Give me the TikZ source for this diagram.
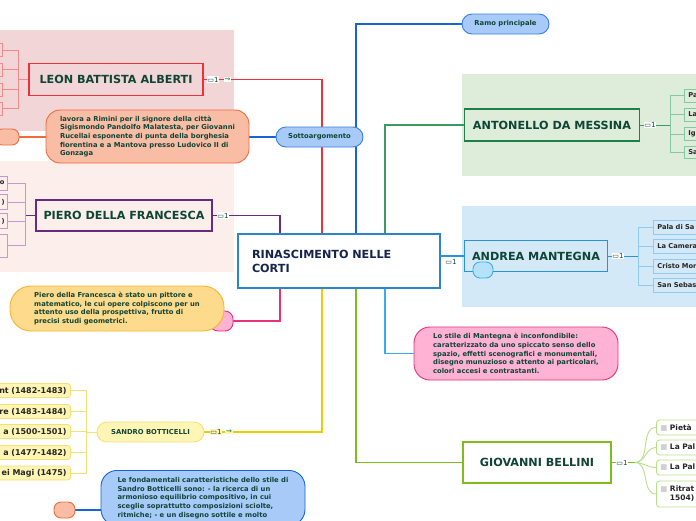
\documentclass[tikz,border=0pt]{standalone}
\usepackage{fontspec}
\setmainfont{DejaVu Sans}
\pgfdeclarelayer{back}
\pgfdeclarelayer{lines}
\pgfsetlayers{back,lines,main}
\definecolor{tgreen}{HTML}{0F4535}
\definecolor{tnavy}{HTML}{14244C}
\definecolor{leonbg}{HTML}{F2D5D7}
\definecolor{pierobg}{HTML}{FCEFEB}
\definecolor{antobg}{HTML}{DDEDDA}
\definecolor{mantbg}{HTML}{D4E9F8}
\definecolor{cred}{HTML}{EE3038}
\definecolor{credlight}{HTML}{F28A8E}
\definecolor{cpurple}{HTML}{6A2A7E}
\definecolor{cpurplelight}{HTML}{C49ACC}
\definecolor{cgreen}{HTML}{1F7F48}
\definecolor{cgreenline}{HTML}{3A9A62}
\definecolor{cgreenlight}{HTML}{86C8A0}
\definecolor{cblue}{HTML}{1565D8}
\definecolor{ccentral}{HTML}{2A86C8}
\definecolor{cmant}{HTML}{2A92DC}
\definecolor{cmantlight}{HTML}{8ECAF2}
\definecolor{ccyan}{HTML}{34AEEE}
\definecolor{cpink}{HTML}{E8307C}
\definecolor{pinkfill}{HTML}{FFB2D4}
\definecolor{cyellow}{HTML}{F2CC00}
\definecolor{cyellowlight}{HTML}{F5E07A}
\definecolor{yellowfill}{HTML}{FFF5B4}
\definecolor{orangefill}{HTML}{FEDA8C}
\definecolor{corange}{HTML}{F5B52E}
\definecolor{salmonfill}{HTML}{F9BDA6}
\definecolor{csalmon}{HTML}{F06A3A}
\definecolor{bluefill}{HTML}{A8CAF8}
\definecolor{cbluedraw}{HTML}{3A7EE0}
\definecolor{clime}{HTML}{7FBC1E}
\definecolor{climelight}{HTML}{BADD8A}
\definecolor{lightbluefill}{HTML}{B4E2FA}
\definecolor{cblobblue}{HTML}{40AEEA}
\definecolor{chkgray}{HTML}{D0D0D0}
\begin{document}
\begin{tikzpicture}[x=1pt,y=-1pt,
  mainbox/.style={draw, line width=1.8pt, inner sep=0pt, font=\bfseries\fontsize{11.2}{14}\selectfont, text=tgreen},
  pill/.style={draw, line width=0.9pt, rounded corners=10pt, inner sep=0pt, font=\bfseries\fontsize{6.8}{8}\selectfont, text=tgreen},
  callout/.style={draw, line width=0.9pt, align=left, inner sep=0pt, font=\bfseries\fontsize{6.8}{8.6}\selectfont, text=tgreen},
  blob/.style={draw, line width=0.9pt, rounded corners=7pt, inner sep=0pt},
  rleaf/.style={draw, line width=0.8pt, inner ysep=0pt, inner xsep=4pt, text width=52pt, align=left, font=\bfseries\fontsize{6.7}{8}\selectfont, text=black!85},
  lleaf/.style={draw, line width=0.8pt, inner ysep=0pt, inner xsep=3pt, text width=40pt, align=right, font=\bfseries\fontsize{6.7}{8}\selectfont, text=black!85, anchor=east},
  sleaf/.style={draw=cyellowlight, fill=yellowfill, rounded corners=3pt, line width=0.8pt, minimum height=14pt, text width=92pt, align=right, inner xsep=4pt, inner ysep=0pt, font=\bfseries\fontsize{8}{9}\selectfont, text=black!85, anchor=east},
  bleaf/.style={draw=climelight, fill=white, rounded corners=3pt, line width=0.8pt, text width=60pt, align=left, inner xsep=4pt, inner ysep=0pt, font=\bfseries\fontsize{7.5}{9}\selectfont, text=black!85, anchor=west},
  icon/.style={fill=white, inner sep=0.6pt, font=\fontsize{7}{7}\selectfont, text=tgreen},
  conn/.style={line width=1.3pt},
  subconn/.style={line width=0.9pt},
]
\useasboundingbox (0,0) rectangle (696,520);
\begin{pgfonlayer}{back}
\fill[leonbg] (0,30) rectangle (234,131);
\fill[pierobg] (0,161) rectangle (234,272);
\fill[antobg] (462,74) rectangle (696,176);
\fill[mantbg] (462,206) rectangle (696,307);
\end{pgfonlayer}

% main nodes
\node[mainbox, draw=ccentral, fill=white, text=tnavy, minimum width=202pt, minimum height=54pt, text width=174pt, align=left, inner xsep=14pt] (central) at (339,261) {RINASCIMENTO NELLE\\CORTI};
\node[mainbox, draw=cred, fill=leonbg, minimum width=174pt, minimum height=32pt] (leon) at (116,79.5) {LEON BATTISTA ALBERTI};
\node[mainbox, draw=cpurple, fill=pierobg, minimum width=176pt, minimum height=31pt] (piero) at (124,215.5) {PIERO DELLA FRANCESCA};
\node[mainbox, draw=cgreen, fill=antobg, minimum width=175pt, minimum height=32pt] (anto) at (552,125) {ANTONELLO DA MESSINA};
\node[mainbox, draw=cmant, fill=mantbg, minimum width=143pt, minimum height=31pt] (mant) at (536,256) {ANDREA MANTEGNA};
\node[mainbox, draw=clime, fill=white, minimum width=148pt, minimum height=41pt] (bell) at (537,462.5) {GIOVANNI BELLINI};

% pills
\node[pill, draw=cbluedraw, fill=bluefill, minimum width=87pt, minimum height=20pt] (sotto) at (319.5,137) {Sottoargomento};
\node[pill, draw=cbluedraw, fill=bluefill, minimum width=87pt, minimum height=20pt] (ramo) at (505.5,24) {Ramo principale};
\node[pill, draw=cyellowlight, fill=yellowfill, minimum width=107pt, minimum height=20pt] (sandro) at (150.5,432) {SANDRO BOTTICELLI};

% callouts
\node[callout, draw=csalmon, fill=salmonfill, rounded corners=14pt, minimum width=203pt, minimum height=53pt] (alb) at (147.5,136.5) {lavora a Rimini per il signore della città\\Sigismondo Pandolfo Malatesta, per Giovanni\\Rucellai esponente di punta della borghesia\\fiorentina e a Mantova presso Ludovico II di\\Gonzaga};
\node[blob, draw=cpink, fill=pinkfill, minimum width=23pt, minimum height=20pt, rounded corners=8pt] (pblob) at (221.5,321) {};
\node[callout, draw=corange, fill=orangefill, rounded corners=21pt, minimum width=214pt, minimum height=45pt] (pcall) at (117,308.5) {Piero della Francesca è stato un pittore e\\matematico, le cui opere colpiscono per un\\attento uso della prospettiva, frutto di\\precisi studi geometrici.};
\node[callout, draw=cpink, fill=pinkfill, rounded corners=16pt, minimum width=204pt, minimum height=53pt] (mcall) at (516,353.5) {Lo stile di Mantegna è inconfondibile:\\caratterizzato da uno spiccato senso dello\\spazio, effetti scenografici e monumentali,\\disegno munuzioso e attento ai particolari,\\colori accesi e contrastanti.};
\node[callout, draw=cblue, fill=bluefill, rounded corners=16pt, minimum width=204pt, inner ysep=7pt, anchor=north] (bcall) at (203,470) {Le fondamentali caratteristiche dello stile di\\Sandro Botticelli sono: - la ricerca di un\\armonioso equilibrio compositivo, in cui\\sceglie soprattutto composizioni sciolte,\\ritmiche; - e un disegno sottile e molto};

% blobs
\node[blob, draw=csalmon, fill=salmonfill, minimum width=24pt, minimum height=16pt] (ablob) at (7,137) {};
\node[blob, draw=csalmon, fill=salmonfill, minimum width=21pt, minimum height=16pt] (bblob) at (64.5,510) {};
\node[blob, draw=cblobblue, fill=lightbluefill, minimum width=20pt, minimum height=16pt] (mblob) at (483,270) {};

% LEON leaves
\node[lleaf, draw=credlight, fill=leonbg, minimum height=13pt] (l1) at (3,50) {};
\node[lleaf, draw=credlight, fill=leonbg, minimum height=13pt] (l2) at (3,69.5) {};
\node[lleaf, draw=credlight, fill=leonbg, minimum height=13pt] (l3) at (3,89.5) {};
\node[lleaf, draw=credlight, fill=leonbg, minimum height=13pt] (l4) at (3,108.5) {};
\coordinate (lj) at (18,79.5);

% PIERO leaves
\node[lleaf, draw=cpurplelight, fill=pierobg, minimum height=14pt] (p1) at (8,183) {o};
\node[lleaf, draw=cpurplelight, fill=pierobg, minimum height=15pt] (p2) at (8,202) {)};
\node[lleaf, draw=cpurplelight, fill=pierobg, minimum height=15pt] (p3) at (8,221) {)};
\node[lleaf, draw=cpurplelight, fill=pierobg, minimum height=23pt] (p4) at (8,245.5) {};
\coordinate (pj) at (25,215.5);

% ANTONELLO leaves
\node[rleaf, draw=cgreenlight, fill=antobg, minimum height=13pt, anchor=west] (a1) at (684,95.5) {Pa};
\node[rleaf, draw=cgreenlight, fill=antobg, minimum height=13pt, anchor=west] (a2) at (684,114.5) {La};
\node[rleaf, draw=cgreenlight, fill=antobg, minimum height=13pt, anchor=west] (a3) at (684,134) {Ig};
\node[rleaf, draw=cgreenlight, fill=antobg, minimum height=12pt, anchor=west] (a4) at (684,152.5) {Sa};
\coordinate (aj) at (670,125);

% MANTEGNA leaves
\node[rleaf, draw=cmantlight, fill=mantbg, minimum height=14pt, anchor=west] (m1) at (653,227) {Pala di Sa};
\node[rleaf, draw=cmantlight, fill=mantbg, minimum height=14pt, anchor=west] (m2) at (653,246.5) {La Camera};
\node[rleaf, draw=cmantlight, fill=mantbg, minimum height=14pt, anchor=west] (m3) at (653,266) {Cristo Mor};
\node[rleaf, draw=cmantlight, fill=mantbg, minimum height=14pt, anchor=west] (m4) at (653,285) {San Sebas};
\coordinate (mj) at (638,256);

% BELLINI leaves
\node[bleaf, minimum height=15pt] (b1) at (656,427.5) {{\color{chkgray}■}\ Pietà};
\node[bleaf, minimum height=15pt] (b2) at (656,447.5) {{\color{chkgray}■}\ La Pal};
\node[bleaf, minimum height=15pt] (b3) at (656,467.5) {{\color{chkgray}■}\ La Pal};
\node[bleaf, minimum height=26pt] (b4) at (656,494) {{\color{chkgray}■}\ Ritrat\\\phantom{■\ }1504)};
\coordinate (bj) at (635,462.5);

% SANDRO leaves
\node[sleaf] (s1) at (71,390.5) {nt (1482-1483)};
\node[sleaf] (s2) at (71,411.5) {re (1483-1484)};
\node[sleaf] (s3) at (71,431.5) {a (1500-1501)};
\node[sleaf] (s4) at (71,452.5) {a (1477-1482)};
\node[sleaf] (s5) at (71,473) {ei Magi (1475)};
\coordinate (sj) at (86,432);

% icons
\node[icon] (ic1) at (213,79.5) {▭1};
\node[icon, text=cgreen] (ic1b) at (227.5,79.5) {⇝};
\node[icon] (ic2) at (223,215.5) {▭1};
\node[icon, fill=none] (ic3) at (451,262) {▭1};
\node[icon] (ic4) at (650,125) {▭1};
\node[icon] (ic5) at (618,256) {▭1};
\node[icon] (ic6) at (622,462.5) {▭1};
\node[icon, fill=yellowfill] (ic7) at (216,432) {▭1};
\node[icon, fill=yellowfill, text=cgreen] (ic7b) at (229,432) {⇝};

\begin{pgfonlayer}{lines}
\draw[conn,cred] (leon.east) -| (322,0 |- central.north);
\draw[conn,cblue] (ramo.west) -| (356,0 |- central.north);
\draw[conn,cgreenline] (anto.west) -| (385,0 |- central.north);
\draw[conn,cpurple] (piero.east) -| (280,0 |- central.north);
\draw[conn,cpink] (pblob.east) -| (280,0 |- central.south);
\draw[conn,cyellow] (sandro.east) -| (322,0 |- central.south);
\draw[conn,clime] (bell.west) -| (356,0 |- central.south);
\draw[conn,ccyan] (mcall.west) -| (385,0 |- central.south);
\draw[conn,cmant] (central.east |- mant.west) -- (mant.west);
\draw[conn,cblue] (alb.east |- sotto.west) -- (sotto.west);
\draw[conn,csalmon] (ablob.east) -- (alb.west |- ablob.east);
\draw[conn,cblue] (bblob.east) -- (bcall.west |- bblob.east);
% leon leaves
\draw[subconn,credlight] (leon.west) -- (lj);
\foreach \n in {l1,l2,l3,l4} \draw[subconn,credlight] (\n.east) -| (lj);
% piero leaves
\draw[subconn,cpurple] (piero.west) -- (pj);
\foreach \n in {p1,p2,p3,p4} \draw[subconn,cpurplelight] (\n.east) -| (pj);
% antonello leaves
\draw[subconn,cgreenline] (anto.east) -- (aj);
\foreach \n in {a1,a2,a3,a4} \draw[subconn,cgreenlight] (\n.west) -| (aj);
% mantegna leaves
\draw[subconn,cmant] (mant.east) -- (mj);
\foreach \n in {m1,m2,m3,m4} \draw[subconn,cmantlight] (\n.west) -| (mj);
% bellini leaves
\draw[subconn,clime] (bell.east) -- (bj);
\foreach \n in {b1,b2,b3,b4} \draw[subconn,climelight] (bj) to[out=0,in=180] (\n.west);
% sandro leaves
\draw[subconn,cyellowlight] (sandro.west) -- (sj);
\foreach \n in {s1,s2,s3,s4,s5} \draw[subconn,cyellowlight] (\n.east) -| (sj);
\end{pgfonlayer}
\end{tikzpicture}
\end{document}
